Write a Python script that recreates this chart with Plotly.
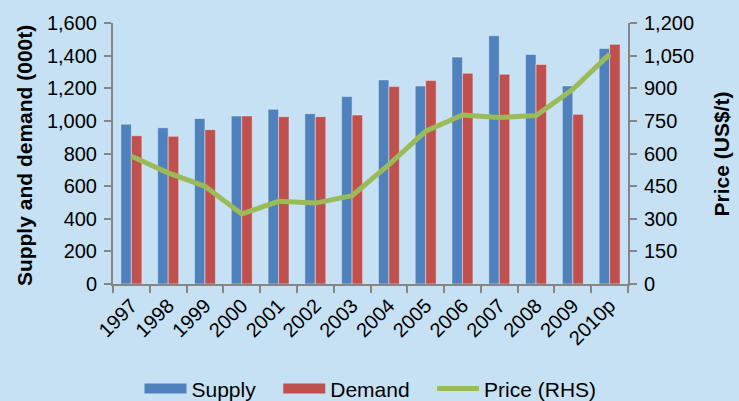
import plotly.graph_objects as go

years = ["1997", "1998", "1999", "2000", "2001", "2002", "2003", "2004", "2005",
         "2006", "2007", "2008", "2009", "2010p"]
supply = [980, 958, 1015, 1030, 1071, 1044, 1149, 1251, 1214, 1391, 1522, 1407, 1214, 1444]
demand = [909, 905, 946, 1030, 1026, 1026, 1036, 1210, 1247, 1292, 1286, 1346, 1040, 1469]
price = [587, 511, 449, 322, 380, 372, 406, 549, 703, 777, 765, 775, 895, 1057]

left_ticks = [0, 200, 400, 600, 800, 1000, 1200, 1400, 1600]
right_ticks = [0, 150, 300, 450, 600, 750, 900, 1050, 1200]

BG = "#C6E1F4"
AX = "#868686"
BLUE = "#4F81BD"
RED = "#C0504D"
GREEN = "#9BBB59"
FONT = "Liberation Sans, Arial, sans-serif"
PAD = "\u00a0\u00a0\u00a0"

fig = go.Figure()
fig.add_trace(go.Bar(x=years, y=supply, name="Supply", marker_color=BLUE,
                     showlegend=False, legendgroup="s"))
fig.add_trace(go.Bar(x=years, y=demand, name="Demand", marker_color=RED,
                     showlegend=False, legendgroup="d"))
fig.add_trace(go.Scatter(x=years, y=price, name="Price (RHS)", mode="lines",
                         line=dict(color=GREEN, width=5), yaxis="y2", showlegend=False,
                         legendgroup="p"))
# legend-only entries (wide swatches like the original)
fig.add_trace(go.Scatter(x=[None], y=[None], name="Supply" + PAD, mode="lines",
                         line=dict(color=BLUE, width=12), legendgroup="s"))
fig.add_trace(go.Scatter(x=[None], y=[None], name="Demand" + PAD, mode="lines",
                         line=dict(color=RED, width=12), legendgroup="d"))
fig.add_trace(go.Scatter(x=[None], y=[None], name="Price (RHS)", mode="lines",
                         line=dict(color=GREEN, width=5), legendgroup="p"))

fig.update_layout(
    width=739, height=401,
    margin=dict(l=113, r=111, t=23, b=117),
    paper_bgcolor=BG, plot_bgcolor=BG,
    font=dict(family=FONT, size=20, color="#000000"),
    barmode="group", bargap=0.43, bargroupgap=0,
    showlegend=True,
    legend=dict(orientation="h", x=0.5, xanchor="center", yref="container",
                y=0.03, yanchor="middle",
                font=dict(size=21), bgcolor="rgba(0,0,0,0)", traceorder="normal",
                itemwidth=42),
    xaxis=dict(type="category", tickangle=-45, showline=True, linecolor=AX, linewidth=2,
               ticks="outside", tickson="boundaries", ticklen=7, tickcolor=AX, tickwidth=2,
               showgrid=False, tickfont=dict(size=20), automargin=False),
    yaxis=dict(range=[0, 1600], tickvals=left_ticks, tickformat=",", showline=True,
               linecolor=AX, linewidth=2, ticks="outside", ticklen=7, tickcolor=AX, tickwidth=2,
               showgrid=False, zeroline=False, tickfont=dict(size=20), automargin=False,
               ticklabelstandoff=3),
    yaxis2=dict(range=[0, 1200], tickvals=right_ticks, tickformat=",", overlaying="y",
                side="right", showline=True, linecolor=AX, linewidth=2, ticks="outside",
                ticklen=7, tickcolor=AX, tickwidth=2, showgrid=False, zeroline=False,
                tickfont=dict(size=20), automargin=False, ticklabelstandoff=3),
    annotations=[
        dict(text="<b>Supply and demand (000t)</b>", xref="paper", yref="paper",
             x=-0.1728, y=0.49, xanchor="center", yanchor="middle", textangle=-90,
             showarrow=False, font=dict(size=21)),
        dict(text="<b>Price (US$/t)</b>", xref="paper", yref="paper",
             x=1.1825, y=0.5, xanchor="center", yanchor="middle", textangle=-90,
             showarrow=False, font=dict(size=21)),
    ],
)

fig.write_html("out.html", config={"displayModeBar": False},
               post_script="document.body.style.margin='0';document.body.style.overflow='hidden';")
